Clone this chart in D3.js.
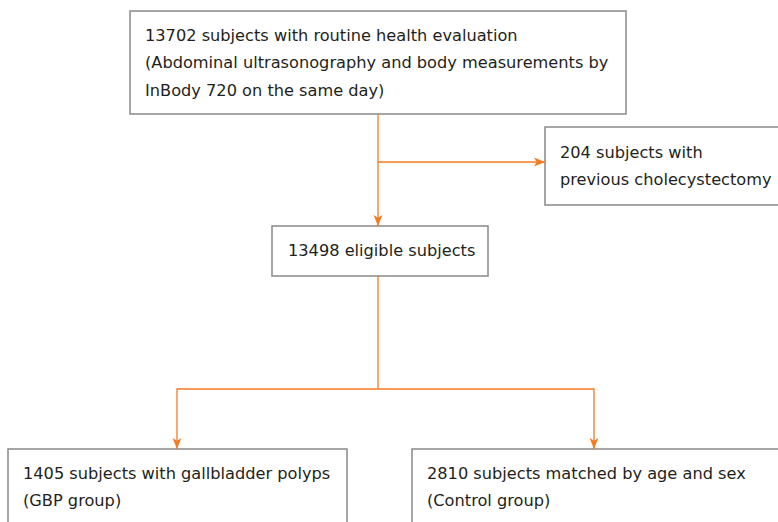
<!DOCTYPE html>
<html>
<head>
<meta charset="utf-8">
<script src="https://cdn.jsdelivr.net/npm/d3@7"></script>
<style>
  body { margin: 0; background: #fff; }
  svg text { font-family: "DejaVu Sans", Verdana, sans-serif; fill: #231f20; }
</style>
</head>
<body>
<script>
// box labels (one entry per line)
var screeningLines = ['13702 subjects with routine health evaluation',
    '(Abdominal ultrasonography and body measurements by',
    'InBody 720 on the same day)'];
var excludedLines = ['204 subjects with', 'previous cholecystectomy'];
var eligibleLines = ['13498 eligible subjects'];
var gbpLines = ['1405 subjects with gallbladder polyps', '(GBP group)'];
var controlLines = ['2810 subjects matched by age and sex', '(Control group)'];

var width = 778, height = 522;
var orange = '#f47b20';

var svg = d3.select('body').append('svg')
    .attr('width', width)
    .attr('height', height);

svg.append('defs').append('marker')
    .attr('id', 'arrow')
    .attr('viewBox', '0 0 10 10')
    .attr('refX', 10)
    .attr('refY', 5)
    .attr('markerWidth', 11)
    .attr('markerHeight', 11)
    .attr('markerUnits', 'userSpaceOnUse')
    .attr('orient', 'auto')
  .append('path')
    .attr('d', 'M0,1 L10,5 L0,9 L2.5,5 Z')
    .attr('fill', orange);

// layout of the boxes
var boxes = [
    {lines: screeningLines, x: 130, y: 11, w: 496, h: 103, pad: 15, top: 24},
    {lines: excludedLines, x: 545, y: 127, w: 240, h: 78, pad: 15, top: 25},
    {lines: eligibleLines, x: 272, y: 226, w: 216, h: 50, pad: 16, top: 24},
    {lines: gbpLines, x: 8, y: 449, w: 339, h: 90, pad: 15, top: 24},
    {lines: controlLines, x: 412, y: 449, w: 380, h: 90, pad: 15, top: 24}
];

var lineGap = 27.5;

boxes.forEach(function (b) {
    var g = svg.append('g');
    g.append('rect')
        .attr('x', b.x)
        .attr('y', b.y)
        .attr('width', b.w)
        .attr('height', b.h)
        .attr('fill', '#fff')
        .attr('stroke', '#8a8888')
        .attr('stroke-width', 1.5);
    g.selectAll('text')
        .data(b.lines)
        .enter().append('text')
        .attr('x', b.x + b.pad)
        .attr('y', function (d, i) { return b.y + b.top + i * lineGap; })
        .attr('dy', '0.35em')
        .attr('font-size', 16.2)
        .text(function (d) { return d; });
});

// connectors
var midX = 378;
var splitY = 389;
var connectors = [
    {d: [[midX, 114], [midX, 226]], arrow: true},
    {d: [[midX, 162], [545, 162]], arrow: true},
    {d: [[midX, 276], [midX, splitY]], arrow: false},
    {d: [[midX, splitY], [177, splitY], [177, 449]], arrow: true},
    {d: [[midX, splitY], [594, splitY], [594, 449]], arrow: true}
];

var line = d3.line();
connectors.forEach(function (c) {
    svg.append('path')
        .attr('d', line(c.d))
        .attr('fill', 'none')
        .attr('stroke', orange)
        .attr('stroke-width', 1.3)
        .attr('marker-end', c.arrow ? 'url(#arrow)' : null);
});
</script>
</body>
</html>
